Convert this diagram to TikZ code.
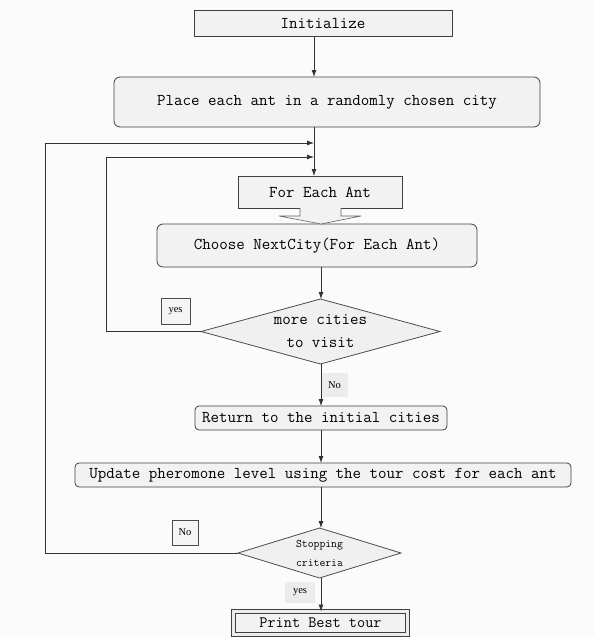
\documentclass[tikz,border=0pt]{standalone}
\usepackage{fontspec}
\newfontfamily\lserif{Liberation Serif}
\usetikzlibrary{shapes.geometric,arrows.meta,calc}
\begin{document}
\begin{tikzpicture}[x=1pt,y=-1pt,
 every node/.style={inner sep=0pt, outer sep=0pt},
 box/.style={draw=black!75, fill=gray!10, line width=0.8pt, font=\ttfamily\fontsize{16.5}{19}\selectfont, anchor=center},
 rbox/.style={box, rounded corners=6pt},
 dia/.style={diamond, draw=black!70, fill=gray!12, line width=0.8pt, align=center},
 lab/.style={font=\lserif\fontsize{10.5}{12}\selectfont},
 labbox/.style={lab, draw=black!70, fill=gray!8, line width=0.6pt},
 labfill/.style={lab, fill=gray!15},
 conn/.style={draw=black!80, line width=0.8pt},
 arr/.style={conn, -{Latex[length=7pt,width=5pt]}},
]
\fill[gray!3] (0,0) rectangle (595,637);
\useasboundingbox (0,0) rectangle (595,637);

\node[box, minimum width=258pt, minimum height=26pt] (init) at (323,23.5) {Initialize};
\node[rbox, minimum width=426pt, minimum height=50pt] (place) at (327,102) {Place each ant in a randomly chosen city};
\node[box, minimum width=164pt, minimum height=32pt] (each) at (320,192) {For Each Ant};
\node[rbox, minimum width=320pt, minimum height=43pt] (choose) at (317,245.5) {Choose NextCity(For Each Ant)};
\node[dia, minimum width=239pt, minimum height=65pt, aspect=3.68, font=\ttfamily\fontsize{16.5}{23}\selectfont] (more) at (320.5,331.5) {more cities\\to visit};
\node[rbox, rounded corners=4pt, minimum width=252pt, minimum height=24pt] (ret) at (321,418) {Return to the initial cities};
\node[rbox, rounded corners=4pt, minimum width=496pt, minimum height=24pt] (upd) at (323,475) {Update pheromone level using the tour cost for each ant};
\node[dia, minimum width=163pt, minimum height=50pt, aspect=3.26, font=\ttfamily\fontsize{11.4}{19}\selectfont] (stop) at (319.5,553) {Stopping\\criteria};
\node[box, double=gray!15, double distance=2.5pt, minimum width=174pt, minimum height=23pt, font=\ttfamily\fontsize{15.8}{18}\selectfont] (print) at (320.5,623) {Print Best tour};

\node[labbox, minimum width=29pt, minimum height=26pt] (yes1) at (175.5,311) {yes};
\node[labfill, minimum width=27pt, minimum height=24pt] (no1) at (334.5,385) {No};
\node[labbox, minimum width=26pt, minimum height=25pt] (no2) at (185,532.5) {No};
\node[labfill, minimum width=30pt, minimum height=21pt] (yes2) at (300,592.5) {yes};

\coordinate (ax) at (314,0);
\coordinate (bx) at (321,0);
\coordinate (outer) at (45,143);
\coordinate (inner) at (106,157);

% block arrow between For Each Ant and Choose
\draw[draw=black!60, fill=gray!10, line width=0.6pt]
  ($(each.south)+(-20,0)$) -- ($(each.south)+(-20,8)$) -- ($(each.south)+(-41,8)$)
  -- (choose.north -| bx) -- ($(each.south)+(41,8)$) -- ($(each.south)+(21,8)$) -- ($(each.south)+(21,0)$);

\draw[arr] (init.south -| ax) -- (place.north -| ax);
\draw[arr] (place.south -| ax) -- (each.north -| ax);
\draw[arr] (stop.west) -| (outer) -- (outer -| ax);
\draw[arr] (more.west) -| (inner) -- (inner -| ax);
\draw[arr] (choose.south -| bx) -- (more.north -| bx);
\draw[arr] (more.south -| bx) -- (ret.north -| bx);
\draw[arr] (ret.south -| bx) -- (upd.north -| bx);
\draw[arr] (upd.south -| bx) -- (stop.north -| bx);
\draw[arr] (stop.south -| bx) -- (print.north -| bx);
\end{tikzpicture}
\end{document}
